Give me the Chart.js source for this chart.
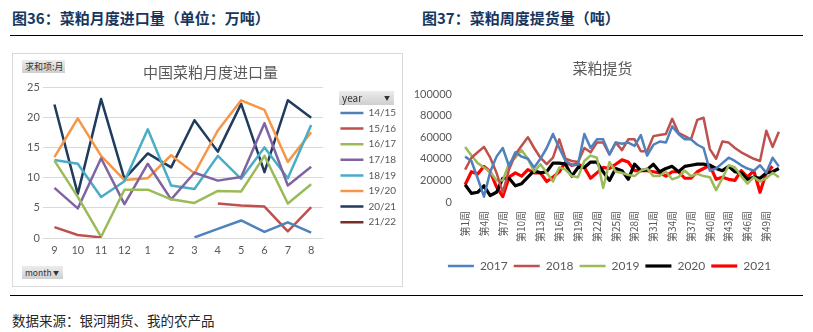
<!DOCTYPE html>
<html>
<head>
<meta charset="utf-8">
<script src="https://cdn.jsdelivr.net/npm/chart.js@4"></script>
<style>
  body { margin: 0; width: 813px; height: 332px; background: #fff; position: relative; overflow: hidden;
         font-family: "Noto Sans CJK SC", sans-serif; }
  .fig-title { position: absolute; top: 7px; font-size: 15px; font-weight: bold; color: #17375e; white-space: nowrap; }
  .rule { position: absolute; left: 10px; width: 793px; height: 1px; background: #000; }
  #box { position: absolute; left: 12px; top: 53px; width: 389px; height: 232px; border: 1px solid #d9d9d9; }
  .btn { position: absolute; background: linear-gradient(#ececec, #cfcfcf); color: #333; font-size: 9px;
         line-height: 13px; padding-left: 3px; box-sizing: border-box; white-space: nowrap; z-index: 2; }
  .btn span { position: absolute; right: 4px; top: 0; font-size: 6px; }
  canvas { position: absolute; }
  #source { position: absolute; left: 12px; top: 310px; font-size: 13.5px; color: #262626; }
</style>
</head>
<body>
<div class="fig-title" style="left:12px">图36：菜粕月度进口量（单位：万吨）</div>
<div class="fig-title" style="left:422px">图37：菜粕周度提货量（吨）</div>
<div class="rule" style="top:35px"></div>
<div id="box"></div>
<canvas id="importChart" width="388" height="231" style="left:13px;top:54px"></canvas>
<div class="btn" style="left:22px;top:60px;width:43px;height:13px">求和项:月</div>
<div class="btn" style="left:339px;top:91px;width:55px;height:14px;font-size:10px">year<span>▼</span></div>
<div class="btn" style="left:22px;top:266px;width:41px;height:13px;font-size:8.5px">month<span>▼</span></div>
<canvas id="pickupChart" width="395" height="252" style="left:410px;top:40px"></canvas>
<div class="rule" style="top:295px"></div>
<div id="source">数据来源：银河期货、我的农产品</div>

<script>
// 图36 monthly imports (万吨), crop year Sep -> Aug
const months = ['9', '10', '11', '12', '1', '2', '3', '4', '5', '6', '7', '8'];
const imp1415 = [null, null, null, null, null, null, 0.1, 1.5, 2.9, 1.0, 2.6, 0.9];
const imp1516 = [1.8, 0.5, 0.1, null, null, null, null, 5.7, 5.4, 5.2, 1.1, 5.1];
const imp1617 = [12.8, 6.8, 0.2, 8.0, 8.0, 6.4, 5.8, 7.8, 7.7, 13.6, 5.7, 8.9];
const imp1718 = [8.3, 4.9, 13.2, 5.6, 12.3, 6.4, 10.8, 9.5, 10.1, 19.0, 8.7, 11.8];
const imp1819 = [12.9, 12.3, 6.8, 9.4, 18.0, 8.7, 8.1, 13.6, 9.8, 15.0, 9.9, 18.7];
const imp1920 = [13.4, 19.8, 13.6, 9.6, 9.9, 13.7, 10.7, 17.8, 22.8, 21.2, 12.6, 17.5];
const imp2021 = [22.1, 7.3, 23.0, 9.8, 14.0, 11.7, 19.5, 14.3, 22.2, 10.9, 22.8, 19.9];
const imp2122 = [null, null, null, null, null, null, null, null, null, null, null, null];
const importTicks = [0, 5, 10, 15, 20, 25];

// 图37 weekly pickup (吨)
const weeks = [];
for (let i = 1; i <= 51; i++) weeks.push('第' + i + '周');
const pickupTicks = [0, 20000, 40000, 60000, 80000, 100000];
const pick2017 = [42000, 38000, 22000, 5000, 28000, 42000, 50000, 33000, 46000, 42000,
                  40000, 32000, 40000, 50000, 63000, 50000, 38000, 34000, 35000, 63000,
                  50000, 58000, 58000, 44000, 55000, 54000, 55000, 52000, 62000, 43000,
                  53000, 56000, 55000, 70000, 63000, 58000, 58000, 53000, 50000, 29000,
                  31000, 36000, 41000, 38000, 34000, 31000, 29000, 34000, 27000, 41000, 33000];
const pick2018 = [30000, 41000, 46000, 51000, 41000, 27000, 9000, 30000, 44000, 52000,
                  60000, 50000, 41000, 35000, 41000, 58000, 40000, 38000, 37000, 50000,
                  46000, 55000, 55000, 44000, 55000, 48000, 58000, 58000, 47000, 47000,
                  61000, 62000, 63000, 77000, 64000, 61000, 58000, 76000, 78000, 49000,
                  40000, 56000, 55000, 50000, 46000, 43000, 40000, 38000, 66000, 51000, 65000];
const pick2019 = [51000, 43000, 36000, 32000, 28000, 20000, 20000, 36000, 41000, 48000,
                  40000, 28000, 35000, 27000, 19000, 32000, 30000, 24000, 23000, 38000,
                  43000, 41000, 13000, 37000, 28000, 27000, 25000, 24000, 29000, 31000,
                  24000, 24000, 28000, 21000, 23000, 29000, 24000, 26000, 24000, 23000,
                  11000, 22000, 34000, 32000, 24000, 17000, 23000, 19000, 22000, 27000, 23000];
const pick2020 = [16000, 8000, 9000, 15000, 6000, 9000, 22000, 22000, 15000, 17000,
                  23000, 29000, 27000, 28000, 36000, 36000, 35000, 24000, 32000, 32000,
                  37000, 37000, 28000, 20000, 31000, 29000, 21000, 35000, 29000, 30000,
                  35000, 28000, 31000, 33000, 28000, 33000, 34000, 35000, 35000, 34000,
                  31000, 29000, 33000, 28000, 27000, 21000, 23000, 22000, 27000, 28000, 31000];
const pick2021 = [16000, 28000, 26000, 33000, 28000, 14000, 5000, 23000, 27000, 24000,
                  30000, 27000, 27000, 19000, 23000, 28000, 37000, 34000, 35000, 32000,
                  22000, 27000, 32000, 31000, 35000, 39000, 37000, 29000, 29000, 29000,
                  28000, 27000, 24000, 28000, 28000, 22000, 22000, 28000, 31000, 34000,
                  21000, 23000, 21000, 20000, 29000, 23000, 29000, 9000, 27000, 33000, null];

const numFont = 'Lato, "Noto Sans CJK SC", sans-serif';
const cjkFont = '"Noto Sans CJK SC", sans-serif';
const axisGrey = '#595959';

function lineSet(label, data, color, width) {
    return {
        label: label,
        data: data,
        borderColor: color,
        backgroundColor: color,
        borderWidth: width,
        pointRadius: 0,
        tension: 0,
        spanGaps: false,
        borderJoinStyle: 'round'
    };
}

// nudge the right chart's title and legend a little right, like the Excel original
const nudgeBoxes = {
    id: 'nudgeBoxes',
    afterLayout(chart) {
        chart.legend.left += 11;
        chart.legend.right += 11;
        chart.titleBlock.left += 4;
        chart.titleBlock.right += 4;
    }
};

// Left chart: monthly import lines
new Chart(document.getElementById('importChart'), {
    type: 'line',
    data: {
        labels: months,
        datasets: [
            lineSet('14/15', imp1415, '#4f81bd', 2.5),
            lineSet('15/16', imp1516, '#c0504d', 2.5),
            lineSet('16/17', imp1617, '#9bbb59', 2.5),
            lineSet('17/18', imp1718, '#8064a2', 2.5),
            lineSet('18/19', imp1819, '#4bacc6', 2.5),
            lineSet('19/20', imp1920, '#f79646', 2.5),
            lineSet('20/21', imp2021, '#1f3b5e', 2.5),
            lineSet('21/22', imp2122, '#772c2a', 2.5)
        ]
    },
    options: {
        responsive: false,
        animation: false,
        layout: { padding: { left: 11, right: 4, top: 0, bottom: 27 } },
        plugins: {
            title: {
                display: true,
                text: '中国菜粕月度进口量',
                color: axisGrey,
                font: { family: cjkFont, size: 15, weight: 'normal' },
                padding: { top: 9, bottom: 6 }
            },
            legend: {
                position: 'right',
                align: 'start',
                title: { display: true, text: ' ', font: { size: 12 }, padding: { top: 34, bottom: 0 } },
                labels: {
                    usePointStyle: true,
                    pointStyle: 'line',
                    pointStyleWidth: 23,
                    padding: 5.6,
                    color: axisGrey,
                    font: { family: numFont, size: 10 }
                }
            },
            tooltip: { enabled: false }
        },
        scales: {
            x: {
                offset: true,
                grid: { display: false, drawTicks: false },
                border: { display: false },
                ticks: { color: axisGrey, font: { family: numFont, size: 11 }, padding: 6 },
                afterFit: axis => { axis.height = 20; }
            },
            y: {
                min: 0,
                max: 25,
                afterBuildTicks: axis => { axis.ticks = importTicks.map(v => ({ value: v })); },
                grid: { color: '#d9d9d9', drawTicks: false },
                border: { display: false },
                ticks: { color: axisGrey, font: { family: numFont, size: 11 }, padding: 3 }
            },
            gap: {
                position: 'right',
                grid: { display: false },
                border: { display: false },
                ticks: { display: false },
                afterFit: axis => { axis.width = 12; }
            }
        }
    }
});

// Right chart: weekly pickup lines
new Chart(document.getElementById('pickupChart'), {
    type: 'line',
    data: {
        labels: weeks,
        datasets: [
            lineSet('2017', pick2017, '#4f81bd', 2.5),
            lineSet('2018', pick2018, '#c0504d', 2.5),
            lineSet('2019', pick2019, '#9bbb59', 2.5),
            lineSet('2020', pick2020, '#000000', 3.2),
            lineSet('2021', pick2021, '#ff0000', 3.2)
        ]
    },
    plugins: [nudgeBoxes],
    options: {
        responsive: false,
        animation: false,
        layout: { padding: { left: 5, right: 23, top: 0, bottom: 10 } },
        plugins: {
            title: {
                display: true,
                text: '菜粕提货',
                color: axisGrey,
                font: { family: cjkFont, size: 15, weight: 'normal' },
                padding: { top: 19, bottom: 17 }
            },
            legend: {
                position: 'bottom',
                labels: {
                    usePointStyle: true,
                    pointStyle: 'line',
                    pointStyleWidth: 26,
                    padding: 6,
                    color: axisGrey,
                    font: { family: numFont, size: 12 }
                }
            },
            tooltip: { enabled: false }
        },
        scales: {
            x: {
                offset: true,
                grid: { display: false, drawTicks: false },
                border: { display: false },
                ticks: {
                    color: axisGrey,
                    font: { family: cjkFont, size: 10 },
                    minRotation: 90,
                    maxRotation: 90,
                    autoSkip: false,
                    padding: 9,
                    callback: (value, index) => (index % 3 === 0 ? weeks[index] : '')
                },
                afterFit: axis => { axis.height = 52; }
            },
            y: {
                min: 0,
                max: 100000,
                afterBuildTicks: axis => { axis.ticks = pickupTicks.map(v => ({ value: v })); },
                grid: { display: false, drawTicks: false },
                border: { display: false },
                ticks: {
                    color: axisGrey,
                    font: { family: numFont, size: 11 },
                    padding: 10,
                    callback: value => String(value)
                },
                afterFit: axis => { axis.width = 47; }
            }
        }
    }
});
</script>
</body>
</html>
